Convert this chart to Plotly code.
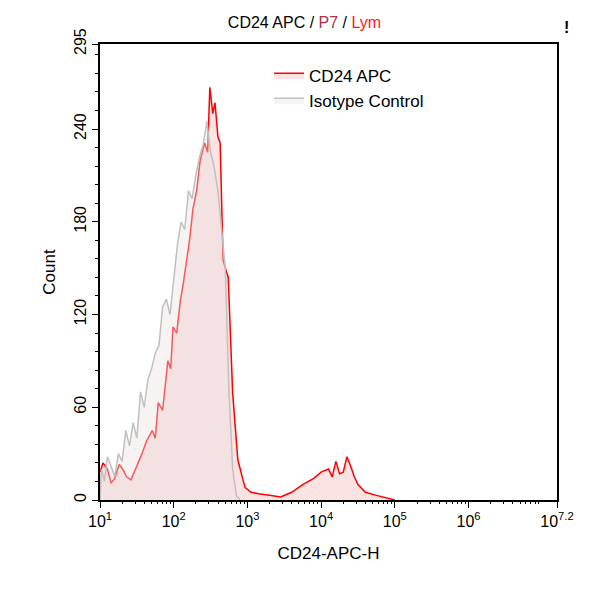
import plotly.graph_objects as go

# Histograma CD24 APC vs control de isotipo (eje x en décadas log10)
cd24_log = [1.00, 1.04, 1.10, 1.15, 1.20, 1.26, 1.31, 1.36, 1.42, 1.50, 1.57, 1.63, 1.71, 1.75, 1.79, 1.85,
            1.92, 1.96, 1.99, 2.04, 2.09, 2.13, 2.18, 2.22, 2.26, 2.31, 2.36, 2.42, 2.46, 2.49, 2.53,
            2.56, 2.60, 2.63, 2.67, 2.74, 2.80, 2.87, 2.94, 2.97, 3.05, 3.15, 3.30, 3.45, 3.60, 3.75,
            3.90, 4.00, 4.10, 4.15, 4.20, 4.25, 4.30, 4.35, 4.40, 4.45, 4.50, 4.60, 4.75, 4.90, 5.00]
cd24_count = [18, 24, 20, 11, 14, 23, 20, 15, 13, 22, 30, 38, 45, 40, 63, 58,
              90, 85, 112, 108, 129, 140, 155, 170, 188, 200, 220, 231, 225, 267, 250,
              257, 235, 231, 155, 144, 69, 26, 13, 8, 5, 4, 3, 2, 5, 10,
              14, 18, 20, 15, 25, 17, 18, 28, 22, 15, 10, 5, 3, 1, 0]

iso_log = [1.00, 1.02, 1.06, 1.10, 1.15, 1.20, 1.25, 1.30, 1.35, 1.40, 1.45, 1.50, 1.55, 1.60, 1.65,
           1.70, 1.75, 1.80, 1.85, 1.90, 1.95, 2.00, 2.05, 2.10, 2.15, 2.20, 2.25, 2.30, 2.35,
           2.40, 2.45, 2.50, 2.55, 2.60, 2.65, 2.70, 2.75, 2.80, 2.85, 2.90]
iso_count = [0, 20, 12, 28, 22, 15, 30, 25, 45, 35, 50, 40, 70, 60, 78,
             85, 95, 100, 125, 130, 120, 145, 165, 180, 175, 200, 195, 210, 222,
             230, 245, 225, 215, 200, 175, 150, 70, 20, 3, 0]

y_ticks = [0, 60, 120, 180, 240, 295]
x_ticks = [1, 2, 3, 4, 5, 6, 7.2]
x_labels = ['10<sup>1</sup>', '10<sup>2</sup>', '10<sup>3</sup>', '10<sup>4</sup>',
            '10<sup>5</sup>', '10<sup>6</sup>', '10<sup>7.2</sup>']

# ticks menores del eje log (2..9 en cada década)
x_minor = [k * 10 ** d for d in range(1, 8) for k in range(2, 10) if k * 10 ** d < 10 ** 7.2]

fig = go.Figure()
fig.add_trace(go.Scatter(x=[10 ** v for v in cd24_log], y=cd24_count, name='CD24 APC',
                         mode='lines', line=dict(color='#ff0000', width=1.5),
                         fill='tozeroy', fillcolor='rgba(250,215,215,0.7)'))
fig.add_trace(go.Scatter(x=[10 ** v for v in iso_log], y=iso_count, name='Isotype Control',
                         mode='lines', line=dict(color='#c0c0c0', width=1.5),
                         fill='tozeroy', fillcolor='rgba(235,225,225,0.4)'))

fig.update_layout(
    width=593, height=600,
    margin=dict(l=92, r=44, t=36, b=108, autoexpand=False),
    plot_bgcolor='white', paper_bgcolor='white',
    font=dict(family='Liberation Sans, Arial', size=16, color='black'),
    title=dict(text='CD24 APC / <span style="color:#b0304a">P7</span> / <span style="color:#ff1a1a">Lym</span>',
               x=0.5, xanchor='center', y=0.985, font=dict(size=16)),
    legend=dict(x=0.37, y=0.97, xanchor='left', yanchor='top', font=dict(size=17),
                bgcolor='rgba(0,0,0,0)'),
    showlegend=True,
    xaxis2=dict(type='log', range=[1, 7.2], overlaying='x', side='bottom', tickvals=x_minor,
                ticks='outside', ticklen=3, tickcolor='black', showticklabels=False,
                showgrid=False, zeroline=False, showline=False),
)
fig.update_xaxes(selector=dict(anchor='y'), type='log', range=[1, 7.2],
                 tickvals=[10 ** v for v in x_ticks], ticktext=x_labels,
                 showline=True, linecolor='black', linewidth=2, mirror=True, showgrid=False,
                 ticks='outside', ticklen=6, tickcolor='black', zeroline=False,
                 title=dict(text='CD24-APC-H', font=dict(size=17), standoff=18))
fig.layout.xaxis.type = 'log'
fig.layout.xaxis.range = [1, 7.2]
fig.layout.xaxis.tickvals = [10 ** v for v in x_ticks]
fig.layout.xaxis.ticktext = x_labels
fig.layout.xaxis.showline = True
fig.layout.xaxis.linecolor = 'black'
fig.layout.xaxis.linewidth = 2
fig.layout.xaxis.mirror = True
fig.layout.xaxis.showgrid = False
fig.layout.xaxis.ticks = 'outside'
fig.layout.xaxis.ticklen = 6
fig.layout.xaxis.tickcolor = 'black'
fig.layout.xaxis.title = dict(text='CD24-APC-H', font=dict(size=17), standoff=18)
fig.update_yaxes(range=[0, 295], tickvals=y_ticks, tickangle=-90,
                 showline=True, linecolor='black', linewidth=2, mirror=True, showgrid=False,
                 ticks='outside', ticklen=6, tickcolor='black', zeroline=False,
                 minor=dict(ticks='outside', ticklen=3, tickcolor='black', dtick=12, showgrid=False),
                 title=dict(text='Count', font=dict(size=17), standoff=12))
# traza invisible para activar el eje de ticks menores
fig.add_trace(go.Scatter(x=[10], y=[0], xaxis='x2', mode='markers', marker=dict(opacity=0),
                         showlegend=False, hoverinfo='skip'))
fig.add_annotation(text='<b>!</b>', x=1.03, y=1.06, xref='paper', yref='paper', showarrow=False,
                   font=dict(size=16))

fig.write_html('out.html')
